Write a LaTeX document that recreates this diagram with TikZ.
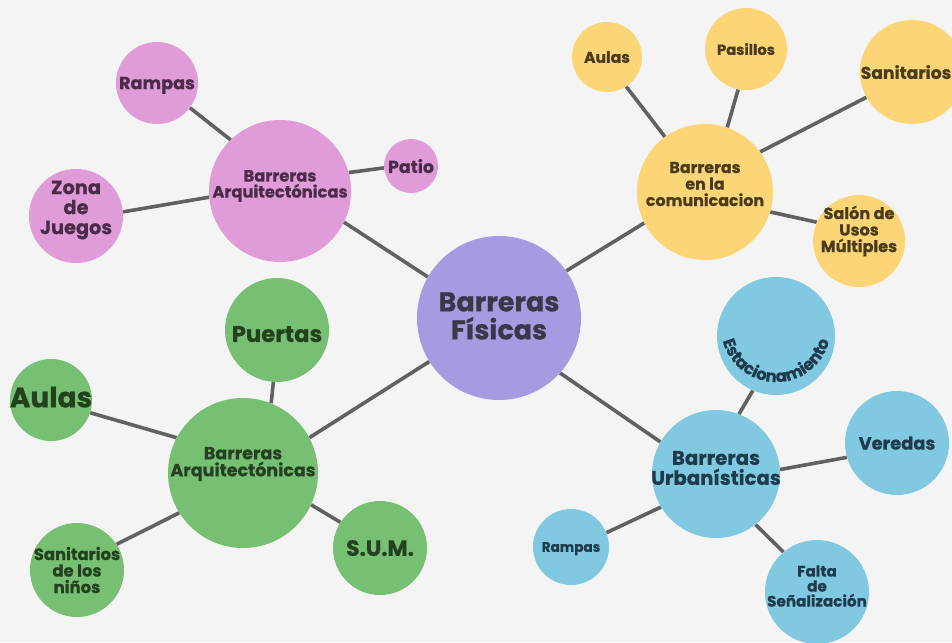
\documentclass[tikz,border=0pt]{standalone}
\usepackage{fontspec}
\setmainfont{Poppins}[BoldFeatures={FakeBold=0.6}]
\usetikzlibrary{decorations.text}
\definecolor{bg}{HTML}{F4F4F4}
\definecolor{cpur}{HTML}{A59BE1}
\definecolor{cpink}{HTML}{DF9CD8}
\definecolor{cyel}{HTML}{FCD676}
\definecolor{cgrn}{HTML}{77BF72}
\definecolor{cblu}{HTML}{80C9E1}
\definecolor{tpur}{HTML}{3B3748}
\definecolor{tpink}{HTML}{4B2C48}
\definecolor{tyel}{HTML}{4A3B1E}
\definecolor{tgrn}{HTML}{24401F}
\definecolor{tblu}{HTML}{1E3A4C}
\definecolor{lne}{HTML}{616161}
\pgfdeclarelayer{back}
\pgfsetlayers{back,main}
\newcommand{\fs}[2]{\fontsize{#1}{#2}\selectfont\bfseries}
\tikzset{
  bub/.style={circle, inner sep=0pt, minimum size=#1},
  lbl/.style={inner sep=0pt, align=center},
  conn/.style={draw=lne, line width=3.6pt},
}
\begin{document}
\begin{tikzpicture}[x=1pt, y=-1pt]
\useasboundingbox (0,0) rectangle (952,642);
\clip (0,0) rectangle (952,642);
\begin{pgfonlayer}{back}
\fill[bg] (0,0) rectangle (952,642);
\end{pgfonlayer}
% circles
\node[bub=164pt, fill=cpur] (cen) at (499,318) {};
\node[bub=142pt, fill=cpink] (ph) at (280,191) {};
\node[bub=82pt, fill=cpink] (pr) at (157,83) {};
\node[bub=94pt, fill=cpink] (pz) at (76,216) {};
\node[bub=54pt, fill=cpink] (pp) at (411,166) {};
\node[bub=136pt, fill=cyel] (yh) at (705,192) {};
\node[bub=70pt, fill=cyel] (ya) at (607,57) {};
\node[bub=82pt, fill=cyel] (yp) at (746,49) {};
\node[bub=104pt, fill=cyel] (ys) at (912,72) {};
\node[bub=92pt, fill=cyel] (yu) at (859,241) {};
\node[bub=128pt, fill=cblu] (bh) at (716,474) {};
\node[bub=118pt, fill=cblu] (be) at (776,336) {};
\node[bub=104pt, fill=cblu] (bv) at (897,443) {};
\node[bub=76pt, fill=cblu] (br) at (571,547) {};
\node[bub=104pt, fill=cblu] (bf) at (817,592) {};
\node[bub=150pt, fill=cgrn] (gh) at (243,473) {};
\node[bub=104pt, fill=cgrn] (gp) at (277,330) {};
\node[bub=82pt, fill=cgrn] (ga) at (51,400) {};
\node[bub=94pt, fill=cgrn] (gs) at (77,570) {};
\node[bub=94pt, fill=cgrn] (gu) at (380,548) {};
% connectors
\begin{pgfonlayer}{back}
\draw[conn] (ph.334) -- (cen.150.6);
\draw[conn] (pr.323) -- (ph.134);
\draw[conn] (pz.5) -- (ph.185);
\draw[conn] (pp.184) -- (ph.15);
\draw[conn] (cen.35) -- (yh.207);
\draw[conn] (ya.303) -- (yh.126);
\draw[conn] (yp.259) -- (yh.71);
\draw[conn] (ys.209) -- (yh.36);
\draw[conn] (yu.156) -- (yh.343);
\draw[conn] (cen.318.5) -- (bh.150);
\draw[conn] (be.247) -- (bh.69);
\draw[conn] (bv.196) -- (bh.4);
\draw[conn] (br.22) -- (bh.211);
\draw[conn] (bf.130) -- (bh.308);
\draw[conn] (cen.212.5) -- (gh.28);
\draw[conn] (gp.266) -- (gh.68);
\draw[conn] (ga.342) -- (gh.152);
\draw[conn] (gs.33) -- (gh.212);
\draw[conn] (gu.147) -- (gh.335);
\end{pgfonlayer}
% texts
\node[lbl, text=tpur, font=\fs{27}{28}] (tcen) at ([yshift=2pt]cen.center) {Barreras\\Físicas};
\node[lbl, text=tpink, font=\fs{16.3}{16}] (tph) at ([yshift=5pt]ph.center) {Barreras\\Arquitectónicas};
\node[lbl, text=tpink, font=\fs{17.6}{18}, text depth=0pt] (tpr) at (pr.center) {Rampas};
\node[lbl, text=tpink, font=\fs{19.3}{20}] (tpz) at ([yshift=6pt]pz.center) {Zona\\de\\Juegos};
\node[lbl, text=tpink, font=\fs{17.4}{18}, text depth=0pt] (tpp) at (pp.center) {Patio};
\node[lbl, text=tyel, font=\fs{15.9}{16.5}] (tyh) at ([yshift=8pt]yh.center) {Barreras\\en la\\comunicacion};
\node[lbl, text=tyel, font=\fs{15.6}{16}, text depth=0pt] (tya) at (ya.center) {Aulas};
\node[lbl, text=tyel, font=\fs{14.7}{16}, text depth=0pt] (typ) at (yp.center) {Pasillos};
\node[lbl, text=tyel, font=\fs{17.2}{18}, text depth=0pt] (tys) at ([xshift=-6pt]ys.center) {Sanitarios};
\node[lbl, text=tyel, font=\fs{16.1}{16.5}] (tyu) at ([yshift=10pt]yu.center) {Salón de\\Usos\\Múltiples};
\node[lbl, text=tblu, font=\fs{19.7}{20}] (tbh) at ([yshift=6pt]bh.center) {Barreras\\Urbanísticas};
\node[lbl, text=tblu, font=\fs{17.8}{18}, text depth=0pt] (tbv) at (bv.center) {Veredas};
\node[lbl, text=tblu, font=\fs{13.6}{14}, text depth=0pt] (tbr) at (br.center) {Rampas};
\node[lbl, text=tblu, font=\fs{15.2}{15}] (tbf) at ([yshift=6pt]bf.center) {Falta\\de\\Señalización};
\node[lbl, text=tgrn, font=\fs{17.5}{17}] (tgh) at ([yshift=9pt]gh.center) {Barreras\\Arquitectónicas};
\node[lbl, text=tgrn, font=\fs{22.7}{23}, text depth=0pt] (tgp) at ([yshift=-4pt]gp.center) {Puertas};
\node[lbl, text=tgrn, font=\fs{28}{28}, text depth=0pt] (tga) at ([yshift=3pt]ga.center) {Aulas};
\node[lbl, text=tgrn, font=\fs{16.4}{16.5}] (tgs) at (gs.center) {Sanitarios\\de los\\niños};
\node[lbl, text=tgrn, font=\fs{22}{22}, text depth=0pt] (tgu) at (gu.center) {S.U.M.};
% curved label
\path[decorate, decoration={text along path, text align=center, text color=tblu,
  text={|\fs{16.5}{17}|Estacionamiento}}]
  ([yshift=9pt]be.center) ++(190:55pt) arc[start angle=190, end angle=350, radius=55pt];
\end{tikzpicture}
\end{document}
